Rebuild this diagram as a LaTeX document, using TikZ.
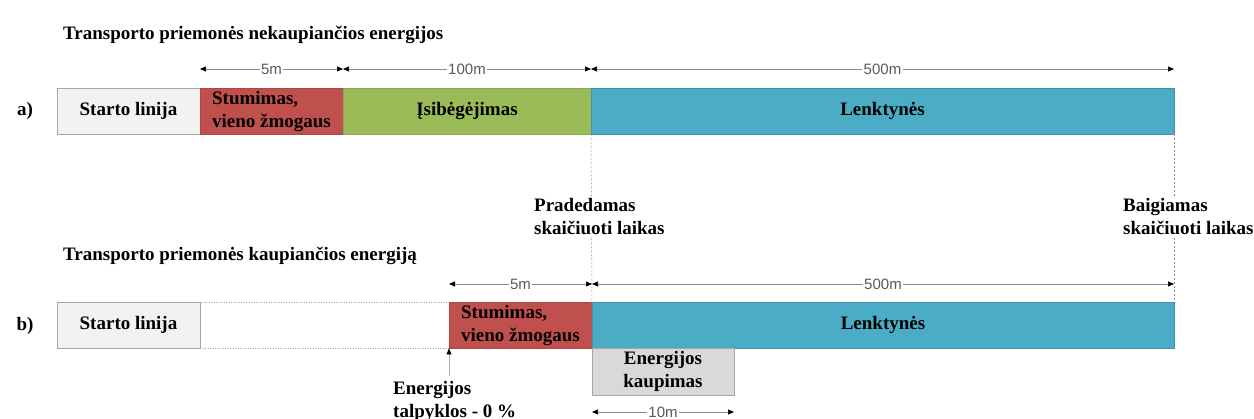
\documentclass[tikz,border=0pt]{standalone}
\usepackage{fontspec}
\setmainfont{Liberation Serif}
\setsansfont{Liberation Sans}
\usetikzlibrary{positioning, arrows.meta}
\definecolor{SegLight}{HTML}{F2F2F2}
\definecolor{SegRed}{HTML}{C0504D}
\definecolor{SegGreen}{HTML}{9BBB59}
\definecolor{SegBlue}{HTML}{4BACC6}
\definecolor{SegGray}{HTML}{D9D9D9}
\definecolor{EdgeGray}{HTML}{A6A6A6}
\definecolor{LineGray}{HTML}{8C8C8C}
\definecolor{TextGray}{HTML}{595959}
\newcommand{\segtxt}{\fontsize{19}{23}\selectfont\bfseries}
\newcommand{\dimtxt}{\fontsize{15}{17}\selectfont\sffamily}

\begin{document}
\begin{tikzpicture}[x=1pt, y=-1pt,
    seg/.style={minimum height=46.5pt, inner sep=0pt, outer sep=0pt, font=\segtxt, align=left},
    startseg/.style={seg, fill=SegLight, draw=EdgeGray},
    gapseg/.style={seg, draw=EdgeGray, dash pattern=on 1pt off 1.5pt},
    pushseg/.style={seg, fill=SegRed, draw=SegRed!90!black},
    accelseg/.style={seg, fill=SegGreen, draw=SegGreen!90!black},
    raceseg/.style={seg, fill=SegBlue, draw=SegBlue!85!black},
    storeseg/.style={seg, fill=SegGray, draw=EdgeGray, align=center},
    dimline/.style={LineGray, line width=0.6pt,
        {Triangle[length=6pt, width=5pt, color=black]}-{Triangle[length=6pt, width=5pt, color=black]}},
    dimlabel/.style={fill=white, inner sep=1.5pt, font=\dimtxt, text=TextGray},
    guide/.style={LineGray, line width=0.5pt, dash pattern=on 2pt off 2pt},
    pointer/.style={LineGray!70, line width=0.8pt, -{Triangle[length=6pt, width=5pt, color=black]}},
    heading/.style={font=\segtxt, anchor=west, inner sep=0pt},
    note/.style={font=\segtxt, align=left, fill=white, inner sep=1pt, anchor=west}
  ]
  \useasboundingbox (0,0) rectangle (1254,419);

  % Row a: vehicle without energy storage
  \node[heading] (titleA) at (63,35) {Transporto priemonės nekaupiančios energijos};
  \node[font=\segtxt] (tagA) at (25,111) {a)};
  \node[startseg, minimum width=143pt, anchor=north west] (startA) at (57,88) {Starto linija};
  \node[pushseg, minimum width=143pt, right=0pt of startA] (pushA) {Stumimas,\\vieno žmogaus};
  \node[accelseg, minimum width=248pt, right=0pt of pushA] (accelA) {Įsibėgėjimas};
  \node[raceseg, minimum width=583pt, right=0pt of accelA] (raceA) {Lenktynės};

  % Row b: vehicle with energy storage
  \node[heading] (titleB) at (63,256) {Transporto priemonės kaupiančios energiją};
  \node[font=\segtxt] (tagB) at (25,326) {b)};
  \node[startseg, minimum width=143pt, anchor=north west] (startB) at (57,302) {Starto linija};
  \node[gapseg, minimum width=249pt, right=0pt of startB] (gapB) {};
  \node[pushseg, minimum width=143pt, right=0pt of gapB] (pushB) {Stumimas,\\vieno žmogaus};
  \node[raceseg, minimum width=582pt, right=0pt of pushB] (raceB) {Lenktynės};
  \node[storeseg, minimum width=142pt, anchor=north west] (storeB) at (raceB.south west) {Energijos\\kaupimas};

  % Timing guides
  \draw[guide] (raceA.south west) -- (raceB.north west);
  \draw[guide] (raceA.south east) -- (raceB.north east);
  \node[note] (startTime) at (533,217) {Pradedamas\\skaičiuoti laikas};
  \node[note] (endTime) at (1122,217) {Baigiamas\\skaičiuoti laikas};

  % Distances
  \draw[dimline] ([yshift=19pt]pushA.north west) -- node[dimlabel]{5m} ([yshift=19pt]pushA.north east);
  \draw[dimline] ([yshift=19pt]accelA.north west) -- node[dimlabel]{100m} ([yshift=19pt]accelA.north east);
  \draw[dimline] ([yshift=19pt]raceA.north west) -- node[dimlabel]{500m} ([yshift=19pt]raceA.north east);
  \draw[dimline] ([yshift=18pt]pushB.north west) -- node[dimlabel]{5m} ([yshift=18pt]pushB.north east);
  \draw[dimline] ([yshift=18pt]raceB.north west) -- node[dimlabel]{500m} ([yshift=18pt]raceB.north east);
  \draw[dimline] ([yshift=-17pt]storeB.south west) -- node[dimlabel]{10m} ([yshift=-17pt]storeB.south east);

  % Storage level
  \node[note, fill=none] (tank) at (392,401) {Energijos\\talpyklos - 0 \%};
  \draw[pointer] ([yshift=4pt]tank.north -| pushB.south west) -- (pushB.south west);
\end{tikzpicture}
\end{document}
